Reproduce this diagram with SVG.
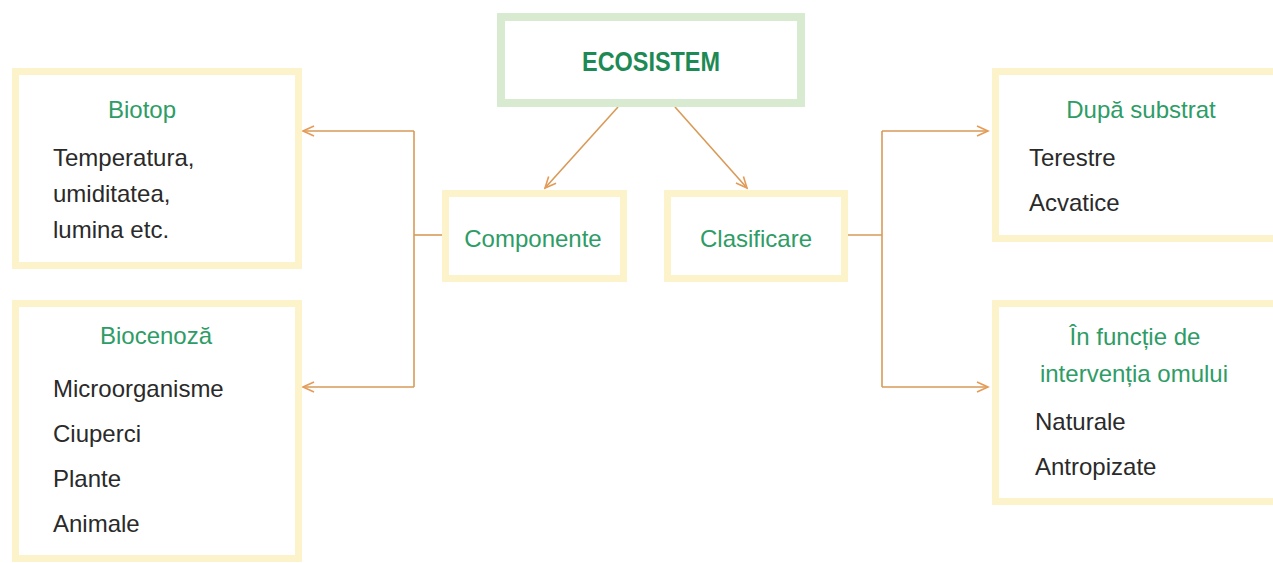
<svg xmlns="http://www.w3.org/2000/svg" width="1273" height="563" viewBox="0 0 1273 563">
<style>
.ybox{fill:#ffffff;stroke:#fdf3cb;stroke-width:7}
.gbox{fill:#ffffff;stroke:#d8eacf;stroke-width:8}
.title{font-family:"Liberation Sans",Arial,sans-serif;font-size:24px;fill:#2e9c66}
.body{font-family:"Liberation Sans",Arial,sans-serif;font-size:24px;fill:#2a2a2a}
.main{font-family:"Liberation Sans",Arial,sans-serif;font-size:27px;font-weight:bold;fill:#1d8a55}
.conn{fill:none;stroke:#d99a58;stroke-width:1.6}
</style>
<defs>
<marker id="arr" markerUnits="userSpaceOnUse" markerWidth="14" markerHeight="14" refX="12" refY="6" orient="auto">
<path d="M1,1 L12,6 L1,11" fill="none" stroke="#e59a55" stroke-width="1.6"/>
</marker>
</defs>
<rect width="1273" height="563" fill="#ffffff"/>
<g id="connectors">
<line class="conn" x1="618" y1="107" x2="545" y2="188" marker-end="url(#arr)"/>
<line class="conn" x1="675" y1="107" x2="747" y2="188" marker-end="url(#arr)"/>
<polyline class="conn" points="442,235 414,235"/>
<polyline class="conn" points="414,131 414,387"/>
<line class="conn" x1="414" y1="131" x2="303" y2="131" marker-end="url(#arr)"/>
<line class="conn" x1="414" y1="387" x2="303" y2="387" marker-end="url(#arr)"/>
<polyline class="conn" points="848,235 882,235"/>
<polyline class="conn" points="882,131 882,387"/>
<line class="conn" x1="882" y1="131" x2="988" y2="131" marker-end="url(#arr)"/>
<line class="conn" x1="882" y1="387" x2="988" y2="387" marker-end="url(#arr)"/>
</g>
<g id="ecosistem">
<rect class="gbox" x="501" y="17" width="300" height="86"/>
<text class="main" x="651" y="71" text-anchor="middle" textLength="138" lengthAdjust="spacingAndGlyphs">ECOSISTEM</text>
</g>
<g id="biotop">
<rect class="ybox" x="15.5" y="71.5" width="283" height="194"/>
<text class="title" x="142" y="118" text-anchor="middle">Biotop</text>
<text class="body" x="53" y="166">Temperatura,</text>
<text class="body" x="53" y="202">umiditatea,</text>
<text class="body" x="53" y="238">lumina etc.</text>
</g>
<g id="biocenoza">
<rect class="ybox" x="15.5" y="303.5" width="283" height="255"/>
<text class="title" x="156" y="344" text-anchor="middle">Biocenoză</text>
<text class="body" x="53" y="397">Microorganisme</text>
<text class="body" x="53" y="442">Ciuperci</text>
<text class="body" x="53" y="487">Plante</text>
<text class="body" x="53" y="532">Animale</text>
</g>
<g id="componente">
<rect class="ybox" x="445.5" y="193.5" width="178" height="85"/>
<text class="title" x="533" y="247" text-anchor="middle">Componente</text>
</g>
<g id="clasificare">
<rect class="ybox" x="667.5" y="193.5" width="177" height="85"/>
<text class="title" x="756" y="247" text-anchor="middle">Clasificare</text>
</g>
<g id="dupa-substrat">
<rect class="ybox" x="995.5" y="71.5" width="300" height="167"/>
<text class="title" x="1141" y="118" text-anchor="middle">După substrat</text>
<text class="body" x="1029" y="166">Terestre</text>
<text class="body" x="1029" y="211">Acvatice</text>
</g>
<g id="interventia-omului">
<rect class="ybox" x="995.5" y="303.5" width="300" height="198"/>
<text class="title" x="1135" y="345" text-anchor="middle">În funcție de</text>
<text class="title" x="1134" y="382" text-anchor="middle">intervenția omului</text>
<text class="body" x="1035" y="430">Naturale</text>
<text class="body" x="1035" y="475">Antropizate</text>
</g>
</svg>
